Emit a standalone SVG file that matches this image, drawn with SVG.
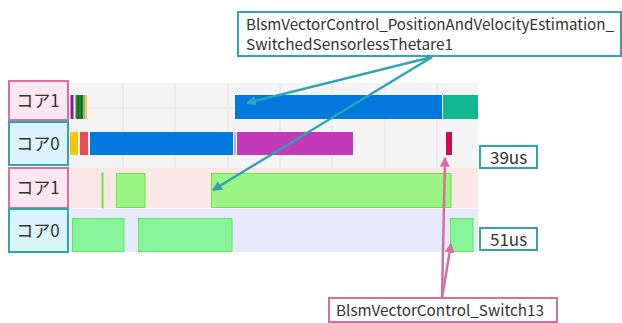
<svg xmlns="http://www.w3.org/2000/svg" width="622" height="323" viewBox="0 0 622 323">
<defs>
<style>
.lbl1{fill:#fce6f0;stroke:#d46fa3;stroke-width:2}
.lbl0{fill:#d9f5f9;stroke:#2fa4b4;stroke-width:2}
.lt{font-family:"Noto Sans CJK JP","Noto Sans",sans-serif;font-size:17px;fill:#333;text-anchor:middle}
.ct{font-family:"Noto Sans CJK JP","Noto Sans",sans-serif;font-size:15px;fill:#333}
.grid{stroke:#e2e2e2;stroke-width:1}
.g1{fill:#9af584;stroke:#5ee84a;stroke-width:1}
.g0{fill:#88f49a;stroke:#5ee860;stroke-width:1}
.tbox{fill:#fff;stroke:#2fa4b4;stroke-width:2}
.pbox{fill:#fff;stroke:#d46fa3;stroke-width:2}
.ta{stroke:#2fa4b4;stroke-width:2.5;fill:none;marker-end:url(#ah-t)}
.pa{stroke:#d46fa3;stroke-width:2.5;fill:none;marker-end:url(#ah-p)}
</style>
<marker id="ah-t" markerWidth="4" markerHeight="4" refX="3.5" refY="2" orient="auto" markerUnits="strokeWidth"><path d="M0,0 L4,2 L0,4 z" fill="#2fa4b4"/></marker>
<marker id="ah-p" markerWidth="4" markerHeight="4" refX="3.5" refY="2" orient="auto" markerUnits="strokeWidth"><path d="M0,0 L4,2 L0,4 z" fill="#d46fa3"/></marker>
</defs>
<rect width="622" height="323" fill="#fff"/>
<g id="chart-top">
<rect x="70" y="83" width="408" height="85" fill="#f4f4f4"/>
<g class="grid">
<line x1="123" y1="83" x2="123" y2="168"/><line x1="175" y1="83" x2="175" y2="168"/><line x1="228" y1="83" x2="228" y2="168"/><line x1="280" y1="83" x2="280" y2="168"/><line x1="332" y1="83" x2="332" y2="168"/><line x1="385" y1="83" x2="385" y2="168"/><line x1="437" y1="83" x2="437" y2="168"/>
<line x1="70" y1="108" x2="478" y2="108"/>
</g>
<rect x="70.5" y="95" width="3" height="24" fill="#8a1a9c"/>
<rect x="75.5" y="95" width="8" height="24" fill="#1f8a2c"/>
<rect x="78" y="95" width="1" height="24" fill="#0b5e16"/>
<rect x="81" y="95" width="1" height="24" fill="#0b5e16"/>
<rect x="84" y="95" width="1" height="24" fill="#9a9a9a"/>
<rect x="85.5" y="95" width="1.5" height="24" fill="#ffc20e"/>
<rect x="235" y="95" width="207" height="24" fill="#0078dc"/>
<rect x="443" y="95" width="35" height="24" fill="#10b890"/>
<rect x="70" y="132" width="8" height="23" fill="#ffc20e"/>
<rect x="80" y="132" width="8" height="23" fill="#f04858"/>
<rect x="90" y="132" width="143" height="23" fill="#0078dc"/>
<rect x="234.5" y="132" width="1" height="23" fill="#777"/>
<rect x="237" y="132" width="116" height="23" fill="#c23ab8"/>
<rect x="446" y="132" width="6" height="23" fill="#cc0a58"/>
</g>
<g id="chart-bottom">
<rect x="70" y="168" width="408" height="40" fill="#fde6e6"/>
<rect x="70" y="209" width="408" height="43" fill="#e8e8fc"/>
<rect class="g1" x="102" y="173" width="1" height="35"/>
<rect class="g1" x="116.5" y="173.5" width="28.5" height="34"/>
<rect class="g1" x="211.5" y="173.5" width="239.5" height="34"/>
<rect class="g0" x="72.5" y="218.5" width="51.5" height="33"/>
<rect class="g0" x="138.5" y="218.5" width="93.5" height="33"/>
<rect class="g0" x="450.5" y="218.5" width="22.5" height="33"/>
</g>
<g id="label-core1-top"><rect class="lbl1" x="9" y="81" width="59" height="39"/><text class="lt" x="38" y="107">コア1</text></g>
<g id="label-core0-top"><rect class="lbl0" x="9" y="122" width="59" height="43"/><text class="lt" x="38" y="150">コア0</text></g>
<g id="label-core1-bottom"><rect class="lbl1" x="9" y="168" width="59" height="40"/><text class="lt" x="38" y="194">コア1</text></g>
<g id="label-core0-bottom"><rect class="lbl0" x="9" y="209" width="59" height="43"/><text class="lt" x="38" y="237">コア0</text></g>
<g id="time-39"><rect class="tbox" x="480" y="146" width="57" height="22"/><text class="ct" x="490" y="164" style="font-size:17px">39us</text></g>
<g id="time-51"><rect class="tbox" x="480" y="228" width="57" height="22"/><text class="ct" x="490" y="246" style="font-size:17px">51us</text></g>
<g id="callout-estimation"><rect class="tbox" x="238" y="12" width="383" height="44"/>
<text class="ct" x="246" y="30" textLength="368" lengthAdjust="spacingAndGlyphs">BlsmVectorControl_PositionAndVelocityEstimation_</text>
<text class="ct" x="246" y="50" textLength="207" lengthAdjust="spacingAndGlyphs">SwitchedSensorlessThetare1</text></g>
<g id="callout-switch"><rect class="pbox" x="329" y="298" width="228" height="24"/>
<text class="ct" x="336" y="316" textLength="208" lengthAdjust="spacingAndGlyphs">BlsmVectorControl_Switch13</text></g>
<g id="connectors">
<line class="ta" x1="432" y1="57" x2="247" y2="103"/>
<line class="ta" x1="432" y1="57" x2="213" y2="190"/>
<line class="pa" x1="442" y1="298" x2="445" y2="158"/>
<line class="pa" x1="442" y1="298" x2="451" y2="244"/>
</g>
</svg>
